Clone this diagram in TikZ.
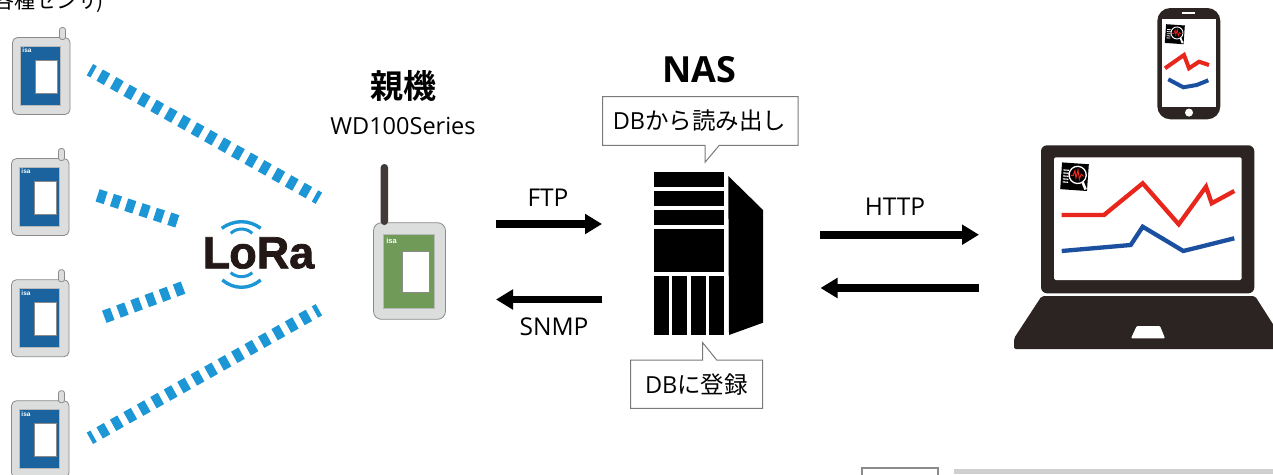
\documentclass[tikz,border=0pt]{standalone}
\usepackage{fontspec}
\setmainfont{Open Sans}
\newfontfamily\jpfont{Noto Sans CJK JP}
\newfontfamily\jpbold{Noto Sans CJK JP Bold}
\newfontfamily\logofont{Liberation Sans}[BoldFont=* Bold]
\newfontfamily\lorafont{Liberation Sans Bold}[FakeBold=1.6]
\usetikzlibrary{arrows.meta}
\definecolor{beam}{HTML}{1D96D6}
\definecolor{panelblue}{HTML}{1B639E}
\definecolor{bodygray}{HTML}{DCDDDD}
\definecolor{edgegray}{HTML}{8B8B8B}
\definecolor{panelgreen}{HTML}{6F9A58}
\definecolor{dark}{HTML}{2B2422}
\definecolor{logoblack}{HTML}{231815}
\definecolor{chartred}{HTML}{E8261C}
\definecolor{chartblue}{HTML}{1B4FA0}
\definecolor{calloutgray}{HTML}{7A7A7A}
\tikzset{
  x=1pt,y=-1pt,
  radio/.style={beam,line width=13pt},
  flow/.style={line width=7.7pt,-{Triangle[length=17pt,width=19.3pt]}},
  callout/.style={draw=calloutgray,fill=white,line width=1pt,line join=miter},
  label/.style={inner sep=0pt,font=\fontsize{24.5}{28}\selectfont},
  jplabel/.style={inner sep=0pt,font=\jpfont\fontsize{23.5}{27}\selectfont},
  chart/.style={line width=#1,line join=miter,line cap=butt},
  sensor/.pic={
    \draw[edgegray,fill=bodygray,line width=.8pt,rounded corners=5pt] (0,0) rectangle (57.5,77);
    \draw[edgegray,fill=bodygray,line width=.8pt,rounded corners=2.5pt] (47,-10) rectangle (53,2);
    \draw[fill=panelblue,draw=edgegray!60,line width=.8pt] (8,9) rectangle (48,68);
    \draw[fill=white,draw=edgegray,line width=.8pt] (23,22.5) rectangle (44.5,55.5);
    \node[inner sep=0pt,text=white,font=\logofont\bfseries\fontsize{6.5}{6.5}\selectfont] (-isa) at (14.5,13) {isa};
  },
  applogo/.pic={
    \begin{scope}[rotate=-4,scale=#1]
      \fill[black] (-13.4,-13.4) rectangle (13.4,13.4);
      \foreach \ya in {-6,-3,0,3,6}{
        \draw[white,line width=#1*1.1pt] (-11.5,\ya) -- (-6,\ya);
      }
      \draw[white,fill=black,line width=#1*1.3pt] (3,-2) circle (8.6);
      \draw[white,line width=#1*2.6pt] (8.5,5) -- (12,12);
      \draw[chartred,line width=#1*1pt] (-4,-1) -- (-1.5,-1) -- (0,-6) -- (1.5,1) -- (3,-7) -- (5,2) -- (6.5,-3) -- (9,-1);
    \end{scope}
  }
}
\begin{document}
\begin{tikzpicture}
\useasboundingbox (0,0) rectangle (1273,474);
\clip (0,0) rectangle (1273,474);
\fill[white] (0,0) rectangle (1273,474);

% caption cut by the top edge
\node[anchor=base east,inner sep=0pt,font=\jpfont\fontsize{21}{25}\selectfont] (sensors) at (104,8) {各種センサ\kern-2pt)};

% sensors
\pic (s1) at (12.5,37.5) {sensor};
\pic (s2) at (11.5,158.5) {sensor};
\pic (s3) at (11.5,279.7) {sensor};
\pic (s4) at (11.5,400.7) {sensor};

% radio beams
\coordinate (b1a) at (89.9,69.7);
\coordinate (b1b) at (318.9,198.2);
\coordinate (b2a) at (97.6,195.35);
\coordinate (b2b) at (177.4,221.35);
\coordinate (b3a) at (104.3,316.8);
\coordinate (b3b) at (183.4,287.5);
\coordinate (b4a) at (89.9,438.3);
\coordinate (b4b) at (318.9,309.8);
\draw[radio,dash pattern=on 8.5pt off 6.93pt,dash phase=4.25pt] (b1a) -- (b1b);
\draw[radio,dash pattern=on 8.5pt off 6.57pt] (b2a) -- (b2b);
\draw[radio,dash pattern=on 8.5pt off 6.6pt] (b3a) -- (b3b);
\draw[radio,dash pattern=on 8.5pt off 6.93pt,dash phase=4.25pt] (b4a) -- (b4b);

% LoRa logo
\node[inner sep=0pt,anchor=base,text=logoblack,font=\lorafont\fontsize{45}{45}\selectfont] (lora) at (258.5,268.3) {L\kern-1pt oRa};
\draw[beam,line width=3.4pt] (221.7,228.3) .. controls (234,219.5) and (249,219.5) .. (260.7,228.3);
\draw[beam,line width=3pt] (230.7,233.3) .. controls (237,227.6) and (246,227.6) .. (252.3,233.3);
\draw[beam,line width=3pt] (230.7,272.7) .. controls (237,278) and (246,278) .. (252.3,272.7);
\draw[beam,line width=3.4pt] (222.3,280) .. controls (234,289.7) and (249,289.7) .. (260.7,280);

% gateway
\node[inner sep=0pt,font=\jpbold\fontsize{33}{38}\selectfont] (parent) at (403.5,86) {親機};
\node[inner sep=0pt,font=\fontsize{23.5}{28}\selectfont] (wd) at (403,126) {WD100Series};
\draw[edgegray,fill=bodygray,line width=.8pt,rounded corners=8pt] (373.5,222.7) rectangle (445.5,319.3);
\draw[draw=none,fill=dark!90,rounded corners=3.5pt] (380.7,164) rectangle (388,225);
\draw[fill=panelgreen,draw=edgegray!60,line width=.8pt] (383.3,234) rectangle (434,308.3);
\draw[fill=white,draw=edgegray,line width=.8pt] (402.7,251.7) rectangle (429,292.7);
\node[inner sep=0pt,text=white,font=\logofont\bfseries\fontsize{7.5}{7.5}\selectfont] (gwisa) at (391.5,240.5) {isa};

% FTP / SNMP
\coordinate (ftpa) at (496,224);
\coordinate (ftpb) at (602,224);
\coordinate (snmpa) at (602.3,299.5);
\coordinate (snmpb) at (496,299.5);
\draw[flow] (ftpa) -- (ftpb);
\draw[flow] (snmpa) -- (snmpb);
\node[label] (ftp) at (548,198) {FTP};
\node[label] (snmp) at (554,327) {SNMP};

% NAS
\node[inner sep=0pt,font=\bfseries\fontsize{36}{40}\selectfont] (nas) at (699,70) {NAS};
\draw[callout] (602.7,96.7) -- (798,96.7) -- (798,145.3) -- (719.3,145.3) -- (705,162.3) -- (705,145.3) -- (602.7,145.3) -- cycle;
\node[jplabel] (read) at (699.5,121) {{\fontfamily{\rmdefault}\selectfont DB}から読み出し};
\fill[black] (654,172) rectangle (724,186.7);
\fill[black] (654,191) rectangle (724,206);
\fill[black] (654,210) rectangle (724,225);
\fill[black] (654,229) rectangle (724,271.7);
\fill[black] (654,276) rectangle (669,335);
\fill[black] (672.3,276) rectangle (687,335);
\fill[black] (691,276) rectangle (705.7,335);
\fill[black] (709.3,276) rectangle (724,335);
\fill[black] (728.3,176) -- (763,210) -- (763,322.7) -- (729,335) -- cycle;
\draw[callout] (630.7,360) -- (702.7,360) -- (702.7,342.7) -- (716.7,360) -- (762.7,360) -- (762.7,408.3) -- (630.7,408.3) -- cycle;
\node[jplabel] (write) at (696.5,384.5) {{\fontfamily{\rmdefault}\selectfont DB}に登録};

% HTTP
\coordinate (httpa) at (820,234.7);
\coordinate (httpb) at (979,234.7);
\coordinate (backa) at (979,288);
\coordinate (backb) at (820.5,288);
\draw[flow] (httpa) -- (httpb);
\draw[flow] (backa) -- (backb);
\node[label] (http) at (895,207) {HTTP};

% phone
\fill[dark,rounded corners=13pt] (1157.3,8) rectangle (1220.3,119.3);
\fill[white] (1161.7,19.3) rectangle (1216.3,106.7);
\fill[white] (1182,12) rectangle (1195,14);
\fill[white] (1189,112.6) circle (4);
\pic (plogo) at (1174.8,34.2) {applogo=0.7};
\draw[chartred,chart=4pt] (1165,68.3) -- (1184,55) -- (1189,68.3) -- (1199,61.7) -- (1209,65);
\draw[chartblue,chart=4pt] (1168.3,79.3) -- (1183.3,87.3) -- (1196.7,85) -- (1208.3,80.3);

% laptop
\fill[dark,rounded corners=6pt] (1041,145.3) rectangle (1254.3,293.3);
\fill[white,rounded corners=1.5pt] (1054,157.3) rectangle (1241.7,280);
\pic (llogo) at (1074.5,176.7) {applogo=1};
\draw[chartred,chart=4.3pt] (1061.7,215) -- (1104,215) -- (1142.7,183.3) -- (1178.7,224.3) -- (1206,186.7) -- (1211.7,203.3) -- (1234.3,191);
\draw[chartblue,chart=4.3pt] (1061.7,251) -- (1130.7,245) -- (1142.7,226.7) -- (1183.3,251) -- (1234.3,238.3);
\fill[dark,rounded corners=2pt] (1041.7,296) -- (1255,296) -- (1282,338.3) -- (1282,349) -- (1014,349) -- (1014,338.3) -- cycle;
\fill[white,rounded corners=1pt] (1131,338.3) -- (1136.7,326) -- (1160,326) -- (1165,338.3) -- cycle;

% cut-off shapes at the bottom edge
\draw[edgegray,fill=white,line width=2pt] (862,468.3) rectangle (937.7,480);
\fill[black!19] (954,469) rectangle (1273,474);
\end{tikzpicture}
\end{document}
